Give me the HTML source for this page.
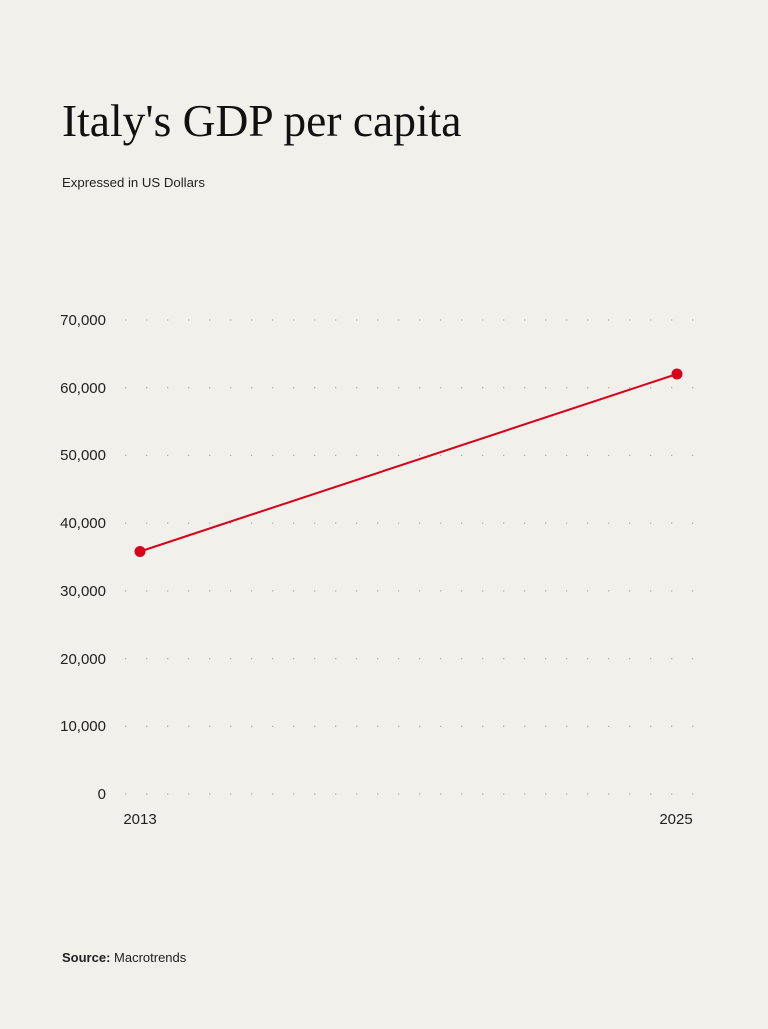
<!DOCTYPE html>
<html><head><style>
body{margin:0;width:768px;height:1024px;background:#f2f0eb;overflow:hidden;font-family:"Liberation Sans",sans-serif;}
</style></head><body>
<svg width="768" height="1024" xmlns="http://www.w3.org/2000/svg">
<text x="62" y="136" font-family="Liberation Serif" font-size="45.5" fill="#111">Italy's GDP per capita</text>
<text x="62" y="187" font-size="13.2" fill="#222">Expressed in US Dollars</text>
<g stroke="#b0b0b0" stroke-width="1.3" stroke-dasharray="1.3 19.7">
<line x1="125" x2="695" y1="320" y2="320"/>
<line x1="125" x2="695" y1="387.7" y2="387.7"/>
<line x1="125" x2="695" y1="455.4" y2="455.4"/>
<line x1="125" x2="695" y1="523.1" y2="523.1"/>
<line x1="125" x2="695" y1="590.9" y2="590.9"/>
<line x1="125" x2="695" y1="658.6" y2="658.6"/>
<line x1="125" x2="695" y1="726.3" y2="726.3"/>
<line x1="125" x2="695" y1="794" y2="794"/>
</g>
<g font-size="15" fill="#222" text-anchor="end">
<text x="106" y="325">70,000</text>
<text x="106" y="393">60,000</text>
<text x="106" y="460">50,000</text>
<text x="106" y="528">40,000</text>
<text x="106" y="596">30,000</text>
<text x="106" y="664">20,000</text>
<text x="106" y="731">10,000</text>
<text x="106" y="799">0</text>
</g>
<g font-size="15" fill="#222" text-anchor="middle">
<text x="140" y="824">2013</text>
<text x="676" y="824">2025</text>
</g>
<line x1="140" y1="551.5" x2="677" y2="374" stroke="#d9001b" stroke-width="2"/>
<circle cx="140" cy="551.5" r="5.5" fill="#d9001b"/>
<circle cx="677" cy="374" r="5.5" fill="#d9001b"/>
<text x="62" y="962" font-size="13" fill="#222"><tspan font-weight="bold">Source:</tspan> Macrotrends</text>
</svg>
</body></html>
